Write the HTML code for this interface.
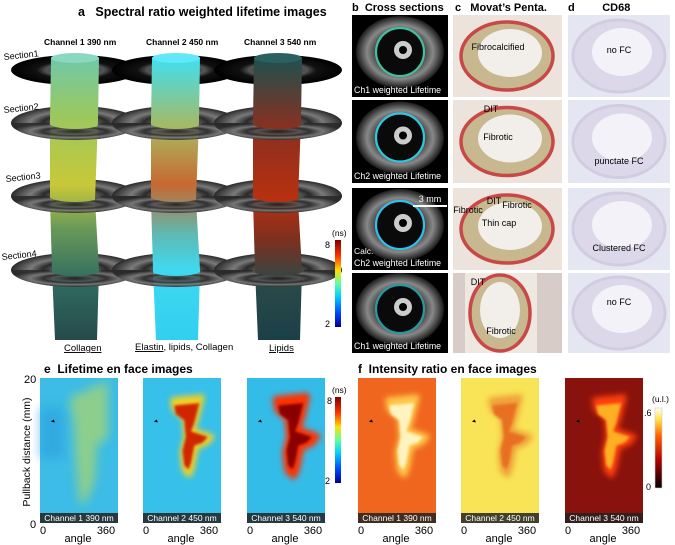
<!DOCTYPE html>
<html><head><meta charset="utf-8"><style>
body{margin:0;background:#fff}
svg{display:block;font-family:"Liberation Sans",sans-serif}
.t{font-weight:bold}
</style></head><body>
<svg id="fig" width="675" height="545" viewBox="0 0 675 545">
<defs>
<filter id="bl" x="-30%" y="-30%" width="160%" height="160%"><feGaussianBlur stdDeviation="3"/></filter>
<filter id="bl1" x="-20%" y="-20%" width="140%" height="140%"><feGaussianBlur stdDeviation="1.5"/></filter>
<filter id="bl4" x="-30%" y="-30%" width="160%" height="160%"><feGaussianBlur stdDeviation="5"/></filter>
<linearGradient id="jet" x1="0" y1="1" x2="0" y2="0">
<stop offset="0" stop-color="#00008f"/><stop offset="0.15" stop-color="#0040ff"/><stop offset="0.35" stop-color="#00d0ff"/><stop offset="0.5" stop-color="#60ffa0"/><stop offset="0.65" stop-color="#ffe000"/><stop offset="0.82" stop-color="#ff3000"/><stop offset="1" stop-color="#800000"/></linearGradient>
<linearGradient id="hot" x1="0" y1="1" x2="0" y2="0">
<stop offset="0" stop-color="#000"/><stop offset="0.35" stop-color="#b00000"/><stop offset="0.65" stop-color="#ff6000"/><stop offset="0.85" stop-color="#ffe040"/><stop offset="1" stop-color="#fffff0"/></linearGradient>
<radialGradient id="disk"><stop offset="0" stop-color="#1a1a1a"/><stop offset="0.35" stop-color="#555"/><stop offset="0.5" stop-color="#2a2a2a"/><stop offset="0.7" stop-color="#7a7a7a"/><stop offset="0.88" stop-color="#4a4a4a"/><stop offset="1" stop-color="#2a2a2a"/></radialGradient>
<radialGradient id="disk1"><stop offset="0" stop-color="#111"/><stop offset="0.45" stop-color="#555"/><stop offset="0.6" stop-color="#111"/><stop offset="1" stop-color="#000"/></radialGradient>
<radialGradient id="us"><stop offset="0" stop-color="#111"/><stop offset="0.5" stop-color="#333"/><stop offset="0.75" stop-color="#888"/><stop offset="1" stop-color="#1a1a1a"/></radialGradient>
<linearGradient id="c1" x1="0" y1="0" x2="0" y2="1"><stop offset="0" stop-color="#70c8a8"/><stop offset="0.2" stop-color="#9ac860"/><stop offset="0.45" stop-color="#c8c838"/><stop offset="0.6" stop-color="#6a9a58"/><stop offset="0.8" stop-color="#2f6a60"/><stop offset="1" stop-color="#264a4a"/></linearGradient>
<linearGradient id="c2" x1="0" y1="0" x2="0" y2="1"><stop offset="0" stop-color="#40e0f0"/><stop offset="0.25" stop-color="#a8b860"/><stop offset="0.45" stop-color="#c86830"/><stop offset="0.62" stop-color="#60b8b0"/><stop offset="0.75" stop-color="#40d8f0"/><stop offset="1" stop-color="#30d0f0"/></linearGradient>
<linearGradient id="c3" x1="0" y1="0" x2="0" y2="1"><stop offset="0" stop-color="#1e5050"/><stop offset="0.25" stop-color="#8a3020"/><stop offset="0.5" stop-color="#b83010"/><stop offset="0.65" stop-color="#7a3020"/><stop offset="0.8" stop-color="#2a4a48"/><stop offset="1" stop-color="#1a4048"/></linearGradient>
</defs>

<g>
<text class="t" x="78" y="16" font-size="12.5">a&#160;&#160;&#160;Spectral ratio weighted lifetime images</text>
<text x="44" y="45" font-size="8.5" font-weight="bold">Channel 1 390 nm</text>
<text x="146" y="45" font-size="8.5" font-weight="bold">Channel 2 450 nm</text>
<text x="244" y="45" font-size="8.5" font-weight="bold">Channel 3 540 nm</text>
<g id="disks"></g>
<g id="cyls"></g>
<g id="fronts"></g>
<text x="4" y="60" font-size="9" transform="rotate(-6 4 60)">Section1</text>
<text x="4" y="113" font-size="9" transform="rotate(-6 4 113)">Section2</text>
<text x="6" y="182" font-size="9" transform="rotate(-6 6 182)">Section3</text>
<text x="2" y="260" font-size="9" transform="rotate(-6 2 260)">Section4</text>
<rect x="335" y="240" width="6" height="87" fill="url(#jet)"/>
<text x="332" y="236" font-size="8.5">(ns)</text>
<text x="325" y="248" font-size="9">8</text>
<text x="325" y="327" font-size="9">2</text>
<text x="64" y="351" font-size="9.5" text-decoration="underline">Collagen</text>
<text x="135" y="350" font-size="9.5"><tspan text-decoration="underline">Elastin</tspan>, lipids, Collagen</text>
<text x="269" y="351" font-size="9.5" text-decoration="underline">Lipids</text>
</g>

<text class="t" x="352" y="11" font-size="11">b&#160;&#160;Cross sections</text>
<text class="t" x="455" y="11" font-size="11">c&#160;&#160;&#160;Movat’s Penta.</text>
<text class="t" x="568" y="11" font-size="11">d&#160;&#160;&#160;&#160;&#160;&#160;&#160;&#160;&#160;CD68</text>
<g id="bcd"></g>

<text class="t" x="44" y="373" font-size="12">e&#160;&#160;Lifetime en face images</text>
<text class="t" x="358" y="373" font-size="12">f&#160;&#160;Intensity ratio en face images</text>
<text x="24" y="383" font-size="11">20</text>
<text x="30" y="528" font-size="11">0</text>
<text x="30" y="452" font-size="10.5" text-anchor="middle" transform="rotate(-90 30 452)">Pullback distance (mm)</text>
<g id="heat"></g>
<rect x="335" y="397" width="6" height="86" fill="url(#jet)"/>
<text x="332" y="393" font-size="8.5">(ns)</text>
<text x="327" y="404" font-size="9">8</text>
<text x="325" y="484" font-size="9">2</text>
<rect x="655" y="408" width="7" height="80" fill="url(#hot)" stroke="#ccc" stroke-width="0.6"/>
<text x="652" y="402" font-size="8.5">(u.l.)</text>
<text x="644" y="416" font-size="9">.6</text>
<text x="646" y="490" font-size="9">0</text>
</svg>
<script>
// en-face blob outline (angle deg, distance mm)
const blobAngle=[137,273,246,228,319,292,246,228,214,191,182,200,191,146];
const blobMM=[17.0,17.4,14.2,12.8,11.9,11.0,10.5,7.7,6.6,7.3,9.7,11.9,14.6,15.6];
const ch1Angle=[150,300,300,250,240,215,195,180,170];
const ch1MM=[17,19,12,11,6,4,3,8,14];
const panelX=[40,143,247,358,461,565];
const panelBg=['#3cbce6','#36c0ea','#34bce8','#f0661e','#f8e456','#8a120c'];
const panelOuter=['#a8d470','#f0d020','#ff3000','#ffc848','#f0a038','#ff4010'];
const panelInner=['#b8d860','#d02800','#8a0000','#fff4c0','#e87020','#ffb020'];
const labels=['Channel 1 390 nm','Channel 2 450 nm','Channel 3 540 nm','Channel 1 390 nm','Channel 2 450 nm','Channel 3 540 nm'];
const xTicks=['0','360'];
const NS='http://www.w3.org/2000/svg';
function mk(t,a,p){const e=document.createElementNS(NS,t);for(const k in a)e.setAttribute(k,a[k]);p.appendChild(e);return e;}
const PW=78,PH=145,PY=378;
function sx(x0,a){return x0+a/360*PW;}
function sy(mm){return PY+(20-mm)/20*PH;}
const heat=document.getElementById('heat');
panelX.forEach((x0,i)=>{
 const g=mk('g',{},heat);
 
 
 mk('rect',{x:x0,y:PY,width:PW,height:PH,fill:panelBg[i]},g);
 if(i===0)mk('rect',{x:x0,y:PY+30,width:24,height:50,fill:'#2a9ee0',opacity:0.6,filter:'url(#bl4)'},g);
 let A=blobAngle,M=blobMM;
 if(i===0){A=ch1Angle;M=ch1MM;}
 const d=A.map((a,k)=>(k?'L':'M')+sx(x0,a).toFixed(1)+','+sy(M[k]).toFixed(1)).join(' ')+'Z';
 const w=i===2?8:(i===0?6:5);
 const outer=mk('path',{d:d,fill:panelOuter[i],stroke:panelOuter[i],'stroke-width':w,'stroke-linejoin':'round',filter:i===0?'url(#bl4)':'url(#bl)',opacity:i===0?0.75:1},g);
 
 
 if(i!==0){const inner=mk('path',{d:d,fill:panelInner[i],stroke:'none',filter:'url(#bl1)',transform:`translate(${x0+40} ${PY+60}) scale(0.85) translate(${-x0-40} ${-PY-60})`},g);
 
 }
 mk('path',{d:`M${sx(x0,50)},${sy(14)} l3,-2 l1,3 z`,fill:'#000'},g);
 mk('rect',{x:x0,y:PY+PH-10,width:PW,height:10,fill:'#222',opacity:0.85},g);
 const lt=mk('text',{x:x0+PW/2,y:PY+PH-2,'font-size':8.5,fill:'#fff','text-anchor':'middle'},g);lt.textContent=labels[i];
 
 
 const t0=mk('text',{x:x0,y:534,'font-size':11},g);t0.textContent=xTicks[0];
 
 
 const t1=mk('text',{x:x0+PW-12,y:534,'font-size':11,'text-anchor':'middle'},g);t1.textContent=xTicks[1];
 
 
 const ax=mk('text',{x:x0+38,y:542,'font-size':11,'text-anchor':'middle'},g);ax.textContent='angle';
 
 
});
const colCx=[75,176,278];
const secCy=[70,123,196,270];
const disks=document.getElementById('disks'),cyls=document.getElementById('cyls'),fr=document.getElementById('fronts');
secCy.forEach((cy,s)=>{colCx.forEach(cx=>{
 const e=mk('ellipse',{cx:cx,cy:cy,rx:64,ry:s===0?15:17,fill:s===0?'url(#disk1)':'url(#disk)'},disks);
 
 
});});
const cylFill=['url(#c1)','url(#c2)','url(#c3)'];
colCx.forEach((cx,i)=>{
 const c=mk('path',{d:`M${cx-24},58 L${cx+24},58 L${cx+23},120 L${cx+20},200 L${cx+24},270 L${cx+22},340 L${cx-20},340 L${cx-23},270 L${cx-25},200 L${cx-25},120 Z`,fill:cylFill[i]},cyls);
 
 
 mk('ellipse',{cx:cx,cy:58,rx:24,ry:5,fill:i===0?'#8ad8c0':(i===1?'#60e8f8':'#2a6060')},cyls);
});
secCy.slice(1).forEach(cy=>{colCx.forEach(cx=>{
 const p=mk('path',{d:`M${cx-64},${cy} A64,17 0 0 0 ${cx+64},${cy} L${cx+26},${cy} A26,6 0 0 1 ${cx-26},${cy} Z`,fill:'url(#disk)',opacity:0.9},fr);
 
 
});});
const rowY=[15,100,188,273],rowH=[82,83,82,80];
const bLabels=['Ch1 weighted Lifetime','Ch2 weighted Lifetime','Ch2 weighted Lifetime','Ch1 weighted Lifetime'];
const cLabels=[[['Fibrocalcified',45,35]],[['DIT',38,12],['Fibrotic',45,40]],[['DIT',41,16],['Fibrotic',15,25],['Fibrotic',64,20],['Thin cap',46,38]],[['DIT',25,12],['Fibrotic',48,61]]];
const dLabels=['no FC','punctate FC','Clustered FC','no FC'];
const dLy=[38,64,63,32];
const ringCol=['#40c0a0','#30c8e0','#30c0e8','#2a9aa0'];
const bcd=document.getElementById('bcd');
rowY.forEach((y,r)=>{
 const h=rowH[r];
 const gb=mk('g',{},bcd);
 
 
 mk('rect',{x:352,y:y,width:96,height:h,fill:'#000'},gb);
 mk('ellipse',{cx:400,cy:y+h/2-4,rx:44,ry:36,fill:'url(#us)'},gb);
 mk('ellipse',{cx:400,cy:y+h/2-4,rx:24,ry:24,fill:'#0a0a0a',stroke:ringCol[r],'stroke-width':2.2},gb);
 mk('circle',{cx:403,cy:y+h/2-6,r:9,fill:'#ccc'},gb);
 mk('circle',{cx:403,cy:y+h/2-6,r:4,fill:'#000'},gb);
 const bt=mk('text',{x:354,y:y+h-4,'font-size':8.8,fill:'#fff'},gb);bt.textContent=bLabels[r];
 
 
 const gc=mk('g',{},bcd);
 
 
 mk('rect',{x:453,y:y,width:109,height:h,fill:r===3?'#d8ccc8':'#ece4dc'},gc);
 if(r===3)mk('rect',{x:465,y:y,width:72,height:h,fill:'#efe8e0'},gc);
 mk('ellipse',{cx:r===3?500:507,cy:y+h/2,rx:r===3?30:46,ry:r===3?38:34,fill:'#c8b890',stroke:'#c84848','stroke-width':3.5},gc);
 mk('ellipse',{cx:r===3?500:510,cy:y+h/2-3,rx:r===3?20:32,ry:r===3?28:24,fill:'#f2eeea'},gc);
 cLabels[r].forEach(l=>{const t=mk('text',{x:453+l[1],y:y+l[2],'font-size':9,'text-anchor':'middle'},gc);t.textContent=l[0];
 
 });
 const gd=mk('g',{},bcd);
 
 
 mk('rect',{x:568,y:y,width:102,height:h,fill:'#e4e6f2'},gd);
 mk('ellipse',{cx:619,cy:y+h/2,rx:46,ry:36,fill:'#dcd8ea',stroke:'#d2cce0','stroke-width':3},gd);
 mk('ellipse',{cx:622,cy:y+h/2-4,rx:30,ry:24,fill:'#f2f2f8'},gd);
 const dt=mk('text',{x:619,y:y+dLy[r],'font-size':9,'text-anchor':'middle'},gd);dt.textContent=dLabels[r];
 
 
});
const sb=mk('line',{x1:413,y1:206,x2:447,y2:206,stroke:'#fff','stroke-width':2},bcd);


const st=mk('text',{x:430,y:202,'font-size':9,fill:'#fff','text-anchor':'middle'},bcd);st.textContent='3 mm';


const ct=mk('text',{x:354,y:254,'font-size':8.5,fill:'#fff'},bcd);ct.textContent='Calc.';


</script>
</body></html>
